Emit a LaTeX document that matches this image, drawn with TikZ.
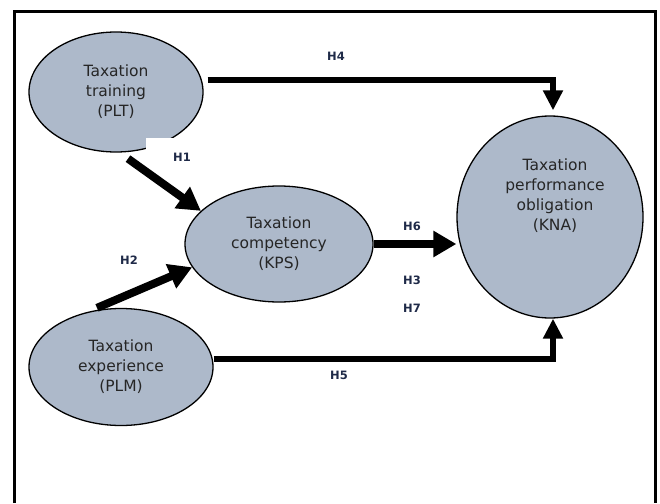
\documentclass[tikz,border=0pt]{standalone}
\usepackage{fontspec}
\setmainfont{DejaVu Sans}
\usetikzlibrary{shapes.geometric,arrows.meta}
\definecolor{varfill}{HTML}{ADB9CA}
\definecolor{hypcol}{HTML}{1F2A48}
\begin{document}
\begin{tikzpicture}[x=1pt, y=-1pt,
construct/.style={ellipse, draw=black, line width=1.3pt, fill=varfill, inner sep=0pt, align=center,
  text=black!85, font=\fontsize{15.5}{20}\selectfont},
constext/.style={align=center, text=black!85, font=\fontsize{15.5}{20}\selectfont},
hyp/.style={text=hypcol, font=\fontsize{11.5}{13}\selectfont\bfseries, inner sep=1pt},
thin path/.style={line width=5.5pt, -{Triangle[length=20pt, width=19pt]}},
thick path/.style={line width=8pt, -{Triangle[length=23pt, width=25pt]}},
]
\useasboundingbox (0,0) rectangle (660,503);
% frame
\draw[line width=3pt] (14,503) -- (14,12) -- (655,12) -- (655,503);

% constructs
\node (plt) [construct, minimum width=174pt, minimum height=120pt] at (116,92) {Taxation\\training\\(PLT)};
\node (kps) [construct, minimum width=188pt, minimum height=116pt] at (279,244) {Taxation\\competency\\(KPS)};
\node (plm) [construct, minimum width=184pt, minimum height=117pt] at (121,367) {Taxation\\experience\\(PLM)};
\node (kna) [construct, minimum width=186pt, minimum height=202pt] at (550,217) {};
\node (knatext) [constext] at (555,196) {Taxation\\performance\\obligation\\(KNA)};

% hypothesis labels
\node (h1) [hyp, fill=white, anchor=north west, inner sep=0pt] at (146,138) {\hspace*{27pt}\raisebox{-23pt}{H1}\rule[-28pt]{0pt}{0pt}};
\node (h2) [hyp] at (129,260) {H2};
\node (h3) [hyp] at (412,280) {H3};
\node (h4) [hyp] at (336,56) {H4};
\node (h5) [hyp] at (339,375) {H5};
\node (h6) [hyp] at (412,226) {H6};
\node (h7) [hyp] at (412,308) {H7};

% paths
\draw[thick path] ([xshift=12pt, yshift=-6pt]plt.south) -- (kps.157);
\draw[thick path] ([xshift=-24pt]plm.north) -- (kps.195);
\draw[thick path] (kps.east) -- (kps.east -| kna.west);
\draw[thin path] ([xshift=4pt, yshift=12pt]plt.east) -| ([xshift=3pt, yshift=5pt]kna.north);
\draw[thin path] ([yshift=8pt]plm.east) -| ([xshift=3pt]kna.south);
\end{tikzpicture}
\end{document}
